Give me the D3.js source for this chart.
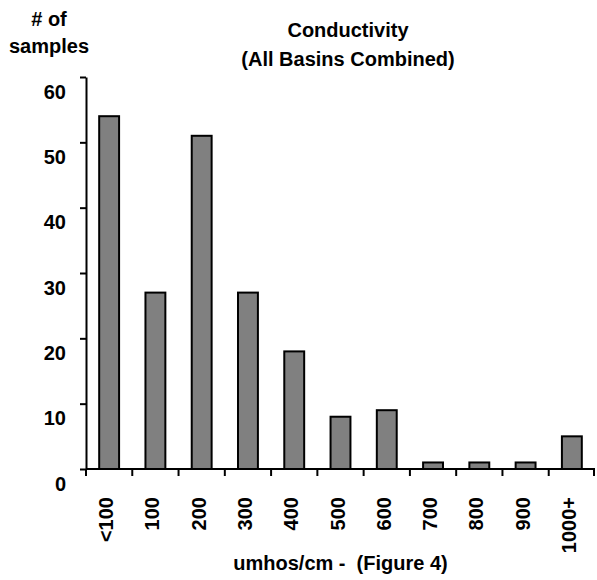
<!DOCTYPE html>
<html>
<head>
<meta charset="utf-8">
<script src="https://cdn.jsdelivr.net/npm/d3@7"></script>
<style>
  body { margin: 0; background: #fff; }
  text { font-family: "Liberation Sans", Arial, sans-serif; font-weight: bold; fill: #000; white-space: pre; }
</style>
</head>
<body>
<div id="chart"></div>
<script>
//chart data
const categories = ["<100", "100", "200", "300", "400", "500", "600", "700", "800", "900", "1000+"];
const samples = [54, 27, 51, 27, 18, 8, 9, 1, 1, 1, 5];
const yTicks = [0, 10, 20, 30, 40, 50, 60];

const width = 597, height = 580;
const margin = { top: 77, right: 2, bottom: 111, left: 86 };

const svg = d3.select("#chart")
    .append("svg")
    .attr("width", width)
    .attr("height", height);

const x = d3.scaleBand()
    .domain(categories)
    .range([margin.left, width - margin.right])
    .padding(0);

const y = d3.scaleLinear()
    .domain([0, 60])
    .range([height - margin.bottom, margin.top]);

const barW = x.bandwidth() * 0.43;

//bars
svg.selectAll(".bar")
    .data(samples)
  .enter().append("rect")
    .attr("class", "bar")
    .attr("x", (d, i) => x(categories[i]) + (x.bandwidth() - barW) / 2)
    .attr("y", d => y(d))
    .attr("width", barW)
    .attr("height", d => y(0) - y(d))
    .attr("fill", "#808080")
    .attr("stroke", "#000")
    .attr("stroke-width", 2);

//y axis
const yAxis = svg.append("g")
    .attr("transform", "translate(" + margin.left + ",0)")
    .call(d3.axisLeft(y).tickValues(yTicks).tickSize(6).tickSizeOuter(0));
yAxis.select(".domain").attr("stroke-width", 2);
yAxis.selectAll(".tick line").attr("stroke-width", 2);
yAxis.selectAll(".tick text")
    .attr("x", -20)
    .attr("dy", 21)
    .style("font-size", "20px");

//x axis line and ticks at band edges
const xg = svg.append("g");
const baseY = y(0);
xg.append("line")
    .attr("x1", x.range()[0]).attr("x2", x.range()[1])
    .attr("y1", baseY).attr("y2", baseY)
    .attr("stroke", "#000").attr("stroke-width", 2);
const edges = categories.map(c => x(c)).concat([x.range()[1] - 1]);
xg.selectAll(".xtick")
    .data(edges)
  .enter().append("line")
    .attr("x1", d => d).attr("x2", d => d)
    .attr("y1", baseY).attr("y2", baseY + 7)
    .attr("stroke", "#000").attr("stroke-width", 2);

//x labels, rotated
svg.selectAll(".xlabel")
    .data(categories)
  .enter().append("text")
    .attr("transform", d => "translate(" + (x(d) + x.bandwidth() / 2 + 4) + "," + 497 + ") rotate(-90)")
    .attr("text-anchor", "end")
    .style("font-size", "20px")
    .text(d => d);

//titles
const cx = (x.range()[0] + x.range()[1]) / 2;
svg.append("text").attr("x", 348).attr("y", 37).attr("text-anchor", "middle")
    .style("font-size", "20px").text("Conductivity");
svg.append("text").attr("x", 348).attr("y", 66).attr("text-anchor", "middle")
    .style("font-size", "20px").text("(All Basins Combined)");
svg.append("text").attr("x", 49).attr("y", 26).attr("text-anchor", "middle")
    .style("font-size", "20px").text("# of");
svg.append("text").attr("x", 49).attr("y", 53).attr("text-anchor", "middle")
    .style("font-size", "20px").text("samples");
svg.append("text").attr("x", cx).attr("y", 570).attr("text-anchor", "middle")
    .style("font-size", "20px").text("umhos/cm -  (Figure 4)");
</script>
</body>
</html>
